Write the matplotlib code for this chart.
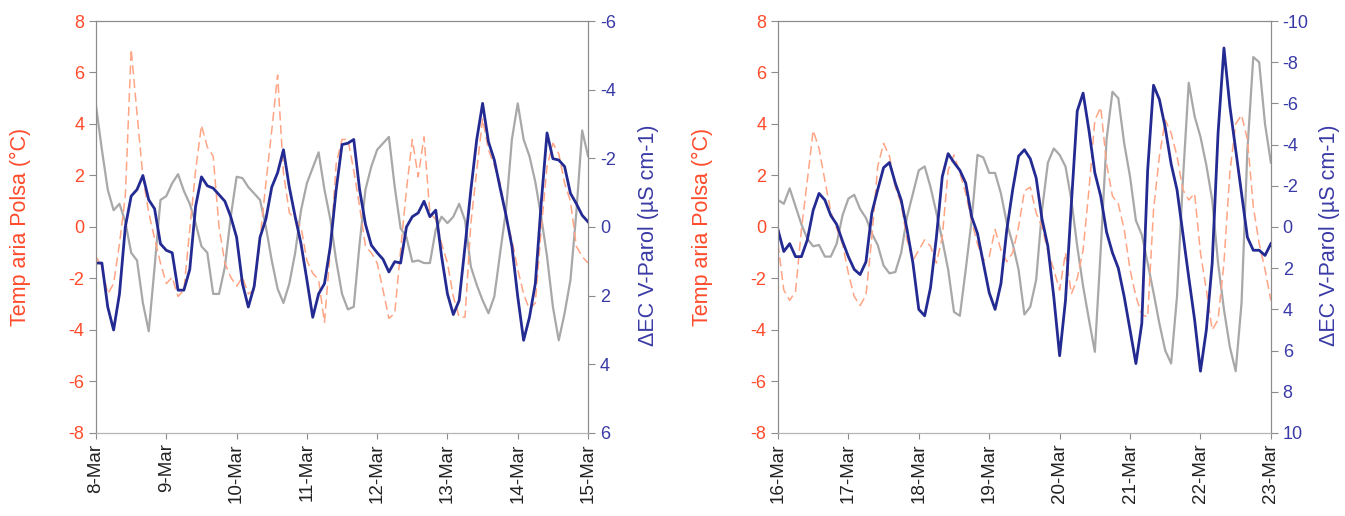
import pandas as pd
import matplotlib
matplotlib.use('Agg')
import matplotlib.pyplot as plt

plt.rcParams['font.family'] = ['Liberation Sans', 'DejaVu Sans']
plt.rcParams['axes.unicode_minus'] = False

# 2-hourly readings for the two weeks
t_week1 = pd.date_range('2008-03-08', periods=85, freq='2h')
t_week2 = pd.date_range('2008-03-16', periods=85, freq='2h')

days_week1 = ['8-Mar', '9-Mar', '10-Mar', '11-Mar', '12-Mar', '13-Mar', '14-Mar', '15-Mar']
days_week2 = ['16-Mar', '17-Mar', '18-Mar', '19-Mar', '20-Mar', '21-Mar', '22-Mar', '23-Mar']

# air temperature at Polsa (degC)
air_week1 = [-1.15, -1.55, -2.6, -2.2, -0.65, 1.2, 6.9, 4.4, 1.95, 0.55,
             -0.45, -1.4, -2.2, -1.95, -2.7, -2.45, -0.1, 2.2, 3.95, 3.1,
             2.75, 0.0, -1.4, -1.95, -2.3, -1.95, -2.6, -2.45, -0.5, 1.7,
             3.75, 5.9, 2.1, 0.55, 0.3, 0.0, -1.3, -1.8, -2.05, -3.7,
             -0.9, 2.45, 3.4,
             3.4, 2.2, 0.8, -0.75, -1.0, -1.4, -2.45, -3.55, -3.35, -0.9,
             1.45, 3.4, 1.95, 3.5, 0.55, 0.3, -0.65, -1.4, -2.7, -3.5,
             -3.5, 0.15, 2.2, 4.2, 3.0, 2.4, 1.7, 0.4, -0.5, -1.65,
             -2.6, -3.2, -2.95, -0.1, 2.35, 3.25, 2.85, 1.7, 1.0, -0.75,
             -1.15, -1.4]
air_week2 = [-0.65, -2.45, -2.85, -2.5, -0.1, 1.8, 3.75, 3.05, 1.8, 0.6,
             -0.05, -0.65, -1.8, -2.7, -3.05, -2.65, -0.4, 2.35, 3.25, 2.75,
             1.55, 0.9, -0.5, -1.3, -0.9, -0.5, -0.75, -1.4, -0.4, 2.2,
             2.8, 2.1, 1.3, 0.25, -0.65, -1.3, -1.15, -0.1, -0.9, -1.35,
             -1.0, 0.0, 1.4,
             1.55, 0.55, 0.0, -0.95, -1.65, -2.45, -1.0, -2.6, -2.0, -0.9,
             1.45, 4.15, 4.65, 2.45, 1.2, 0.9, -0.1, -1.65, -2.7, -3.4,
             -3.5, 0.65, 2.75, 4.15, 3.65, 2.75, 1.45, 1.05, 1.3, -1.0,
             -2.45, -4.0, -3.6, -1.4, 2.1, 4.0, 4.35, 3.4, 0.8, -0.65,
             -1.65, -2.85]

# second temperature record (grey)
temp2_week1 = [4.7, 3.0, 1.45, 0.65, 0.9, 0.2, -1.0, -1.3, -2.95, -4.05,
               -1.55, 1.05, 1.2, 1.7, 2.05, 1.4, 0.9, 0.15, -0.75, -1.0,
               -2.6, -2.6, -1.55, 0.4, 1.95, 1.9, 1.55, 1.3, 1.05, 0.0,
               -1.3, -2.4, -2.95, -2.2, -1.0, 0.65, 1.7, 2.3, 2.9, 1.45,
               0.3, -1.3, -2.6,
               -3.2, -3.1, -0.65, 1.45, 2.35, 3.0, 3.25, 3.5, 1.55, -0.05,
               -0.4, -1.35, -1.3, -1.4, -1.4, -0.1, 0.4, 0.15, 0.4, 0.9,
               0.25, -1.55, -2.25, -2.85, -3.35, -2.7, -1.0, 0.65, 3.4, 4.8,
               3.4, 2.75, 1.75, 0.4, -1.15, -3.1, -4.4, -3.35, -2.05, 0.55,
               3.75, 2.75]
temp2_week2 = [1.05, 0.9, 1.5, 0.8, 0.1, -0.45, -0.75, -0.7, -1.15, -1.15,
               -0.65, 0.45, 1.1, 1.25, 0.7, 0.35, -0.25, -0.7, -1.5, -1.8,
               -1.75, -1.0, 0.4, 1.3, 2.2, 2.35, 1.55, 0.55, -0.5, -1.65,
               -3.3, -3.45, -1.65, 0.25, 2.8, 2.7, 2.1, 2.1, 1.3, 0.15,
               -0.65, -1.65, -3.4,
               -3.1, -2.05, 0.65, 2.5, 3.05, 2.8, 2.35, 1.05, -0.75, -2.3,
               -3.6, -4.85, -0.9, 3.4, 5.25, 5.0, 3.25, 1.95, 0.25, -0.3,
               -1.4, -2.55, -3.75, -4.8, -5.3, -2.7, 1.8, 5.6, 4.3, 3.5,
               2.4, 1.05, -1.4, -3.2, -4.65, -5.6, -2.95, 3.0, 6.6, 6.4,
               4.0, 2.5]

# conductivity change at V-Parol (uS/cm), shown on a reversed axis
ec_week1 = [1.05, 1.05, 2.33, 3.0, 1.95, 0.0, -0.9, -1.09, -1.5, -0.79,
            -0.53, 0.49, 0.68, 0.75, 1.84, 1.84, 1.24, -0.6, -1.46, -1.2,
            -1.13, -0.94, -0.75, -0.3, 0.3, 1.65, 2.33, 1.73, 0.3, -0.23,
            -1.16, -1.58, -2.25, -1.16, -0.3, 0.49, 1.54, 2.63, 1.95, 1.65,
            0.56, -1.09, -2.4,
            -2.44, -2.55, -1.09, -0.08, 0.53, 0.75, 0.94, 1.31, 1.01, 1.05,
            0.0, -0.3, -0.41, -0.75, -0.3, -0.49, 0.86, 1.95, 2.55, 2.14,
            0.56, -1.09, -2.55, -3.6, -2.48, -1.95, -1.13, -0.34, 0.56, 2.03,
            3.3, 2.63, 1.65, -0.68, -2.74, -1.99, -1.95, -1.76, -0.98, -0.68,
            -0.34, -0.15]
ec_week2 = [0.13, 1.19, 0.81, 1.44, 1.44, 0.63, -0.81, -1.63, -1.31, -0.56,
            -0.13, 0.69, 1.44, 2.06, 2.31, 1.69, -0.69, -1.81, -2.88, -3.13,
            -2.13, -1.31, 0.13, 1.75, 4.0, 4.31, 2.94, 0.5, -2.44, -3.56,
            -3.13, -2.75, -2.13, -0.5, 0.31, 1.75, 3.19, 4.0, 2.75, 0.13,
            -1.81, -3.44, -3.75,
            -3.31, -2.38, -0.38, 0.94, 3.38, 6.25, 3.56, -1.13, -5.63, -6.5,
            -4.69, -2.63, -1.5, 0.25, 1.25, 2.0, 3.38, 5.0, 6.63, 4.69,
            -2.75, -6.88, -6.19, -4.81, -3.06, -1.81, 0.31, 2.44, 4.5, 7.0,
            5.0, 1.75, -4.56, -8.69, -5.88, -3.75, -1.63, 0.5, 1.13, 1.13,
            1.38, 0.81]

RED = '#ff4b2b'
BLUE = '#3a3aa6'
SPINE = '#8c8c8c'


def draw_panel(ax, t, air, temp2, ec, days, ec_max, lab_left, lab_right):
    ax.plot(t, temp2, color='#a8a8a8', lw=1.6)
    ax.plot(t, air, color='#ffa585', lw=1.1, ls=(0, (6, 3)))
    ax.set_ylim(-8, 8)
    ax.set_yticks(range(-8, 9, 2))
    ax.set_xlim(t[0], t[-1])
    ticks = pd.date_range(t[0], t[-1], freq='D')
    ax.set_xticks(ticks)
    ax.set_xticklabels(days, rotation=90, fontsize=13.5)
    ax.tick_params(axis='y', colors=SPINE, labelcolor=RED, labelsize=13,
                   length=5, direction='out')
    ax.tick_params(axis='x', colors=SPINE, labelcolor='#222222', length=4)
    ax.set_ylabel('Temp aria Polsa (°C)', color=RED, fontsize=15.5)
    ax.yaxis.set_label_coords(lab_left, 0.5)

    ax2 = ax.twinx()
    ax2.plot(t, ec, color='#232a92', lw=2.0)
    ax2.set_ylim(ec_max, -ec_max)
    ax2.set_yticks(range(-ec_max, ec_max + 1, 2))
    ax2.tick_params(axis='y', colors=SPINE, labelcolor=BLUE, labelsize=13,
                    length=5, direction='out')
    ax2.set_ylabel('ΔEC V-Parol (µS cm-1)', color=BLUE, fontsize=15.5,
                   rotation=90)
    ax2.yaxis.set_label_coords(lab_right, 0.48)

    for a in (ax, ax2):
        for side in ('left', 'right', 'top'):
            a.spines[side].set_color(SPINE)
        a.spines['bottom'].set_color('#b4b4b4')
    return ax2


fig = plt.figure(figsize=(13.45, 5.16), dpi=100)
ax_a = fig.add_axes([0.0714, 0.1609, 0.3658, 0.7984])
ax_b = fig.add_axes([0.5784, 0.1609, 0.3665, 0.7984])

draw_panel(ax_a, t_week1, air_week1, temp2_week1, ec_week1, days_week1, 6,
           -0.133, 1.1006)
draw_panel(ax_b, t_week2, air_week2, temp2_week2, ec_week2, days_week2, 10,
           -0.131, 1.098)

fig.savefig('out.png', dpi=100)
